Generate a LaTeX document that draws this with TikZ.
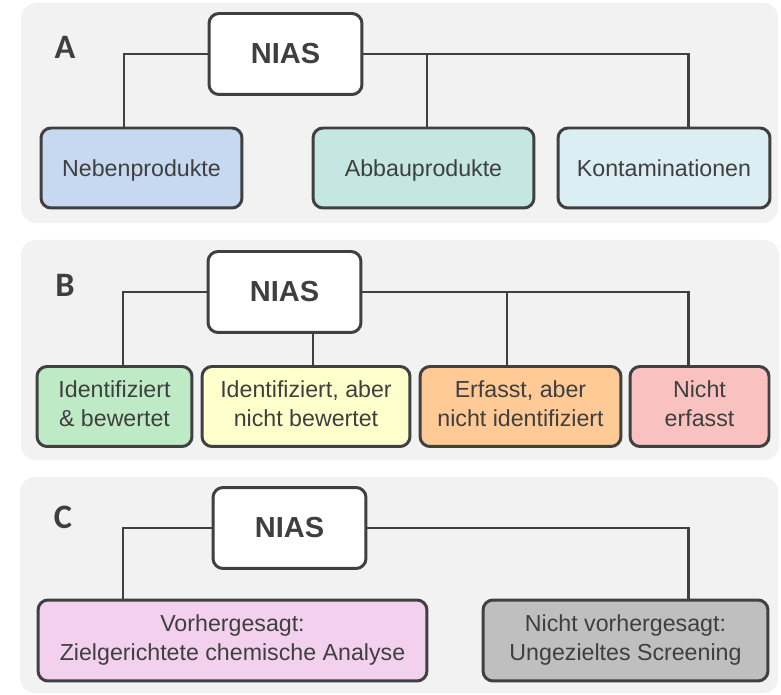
\documentclass[tikz,border=0pt]{standalone}
\usepackage{fontspec}
\setmainfont{Liberation Sans}
\newfontfamily\tagfont{Carlito}
\usepackage{tikz}

\definecolor{panelgray}{HTML}{F2F2F2}
\definecolor{linegray}{HTML}{404040}
\definecolor{textgray}{HTML}{3F3F3F}
\definecolor{nebblue}{HTML}{C6D9F0}
\definecolor{abbteal}{HTML}{C4E7E1}
\definecolor{koncyan}{HTML}{DBEEF3}
\definecolor{idgreen}{HTML}{BEEBC5}
\definecolor{inbyellow}{HTML}{FFFFCC}
\definecolor{enorange}{HTML}{FFCA96}
\definecolor{nepink}{HTML}{F9C2C0}
\definecolor{vorlilac}{HTML}{F2D0EE}
\definecolor{nvgray}{HTML}{BFBFBF}

\newcommand\boxprop{\rule[-3pt]{0pt}{15.5pt}}

\begin{document}
\begin{tikzpicture}[x=0.02cm, y=-0.02cm,
	panel/.style={fill=panelgray, rounded corners=0.3cm},
	root/.style={draw=linegray, line width=1.7pt, fill=white, rounded corners=0.2cm, minimum width=3.06cm, minimum height=1.62cm, font=\fontsize{16.5}{19}\selectfont\bfseries, text=textgray},
	leaf/.style={draw=linegray, line width=1.7pt, rounded corners=0.2cm, minimum height=1.6cm, align=center, inner sep=0pt, font=\fontsize{13.2}{16.5}\selectfont, text=textgray, execute at begin node=\boxprop, execute at end node=\boxprop},
	tag/.style={font=\fontsize{19.5}{22}\selectfont\tagfont\bfseries, text=textgray},
	link/.style={draw=linegray, line width=1.7pt}]
	
	\useasboundingbox (0,0) rectangle (781,695);
	\fill[panel] (21,3) rectangle (778,223);
	\fill[panel] (21,240) rectangle (779,460);
	\fill[panel] (20,477) rectangle (778,693);
	
	\node[tag] (tA) at (65, 47) {A};
	\node[root] (nA) at (285.5, 54) {NIAS};
	\node[leaf, fill=nebblue, minimum width=4.02cm] (nebA) at (141.5, 168) {Nebenprodukte};
	\node[leaf, fill=abbteal, minimum width=4.42cm] (abbA) at (423.5, 168) {Abbauprodukte};
	\node[leaf, fill=koncyan, minimum width=4.24cm] (konA) at (664, 168) {Kontaminationen};
	
	\coordinate (dA1) at (124, 54);
	\coordinate (dA2) at (427, 54);
	\coordinate (dA3) at (688, 54);
	\draw[link] (nA.west) -- (dA1) -- (dA1 |- nebA.north);
	\draw[link] (nA.east) -- (dA3) -- (dA3 |- konA.north);
	\draw[link] (dA2) -- (dA2 |- abbA.north);
	
	\node[tag] (tB) at (65, 285) {B};
	\node[root] (nB) at (284.5, 292) {NIAS};
	\node[leaf, fill=idgreen, minimum width=3.1cm] (idB) at (114.5, 406.5) {Identifiziert\\\& bewertet};
	\node[leaf, fill=inbyellow, minimum width=4.16cm] (inbB) at (306, 406.5) {Identifiziert, aber\\nicht bewertet};
	\node[leaf, fill=enorange, minimum width=4.02cm] (enB) at (520.5, 406.5) {Erfasst, aber\\nicht identifiziert};
	\node[leaf, fill=nepink, minimum width=2.78cm] (neB) at (699.5, 406.5) {Nicht\\erfasst};
	
	\coordinate (dB1) at (123, 292);
	\coordinate (dB2) at (313, 292);
	\coordinate (dB3) at (507, 292);
	\coordinate (dB4) at (688, 292);
	\draw[link] (nB.west) -- (dB1) -- (dB1 |- idB.north);
	\draw[link] (dB2 |- nB.south) -- (dB2 |- inbB.north);
	\draw[link] (nB.east) -- (dB4) -- (dB4 |- neB.north);
	\draw[link] (dB3) -- (dB3 |- enB.north);
	
	\node[tag] (tC) at (63, 517) {C};
	\node[root] (nC) at (289.5, 528) {NIAS};
	\node[leaf, fill=vorlilac, minimum width=7.78cm, minimum height=1.62cm] (vorC) at (232.5, 640.5) {Vorhergesagt:\\Zielgerichtete chemische Analyse};
	\node[leaf, fill=nvgray, minimum width=5.7cm, minimum height=1.62cm] (nvC) at (625.5, 640.5) {Nicht vorhergesagt:\\Ungezieltes Screening};
	
	\coordinate (dC1) at (123, 528);
	\coordinate (dC2) at (688, 528);
	\draw[link] (nC.west) -- (dC1) -- (dC1 |- vorC.north);
	\draw[link] (nC.east) -- (dC2) -- (dC2 |- nvC.north);
	
\end{tikzpicture}
\end{document}
